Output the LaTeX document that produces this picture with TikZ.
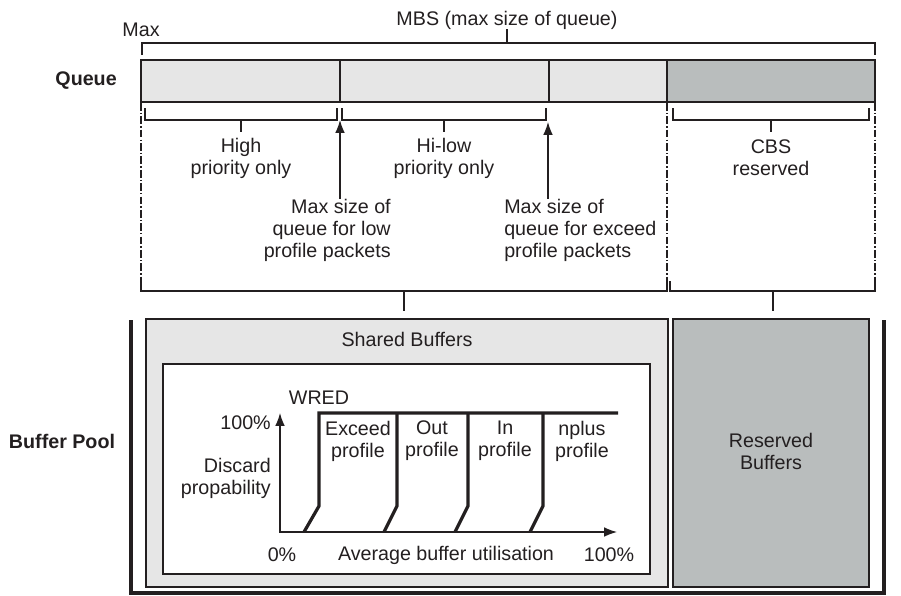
\documentclass[tikz,border=0pt]{standalone}
\usepackage{fontspec}
\setmainfont{Liberation Sans}
\usetikzlibrary{arrows.meta}

\definecolor{lightbuf}{HTML}{E6E6E6}
\definecolor{darkbuf}{HTML}{B9BDBD}
\definecolor{ink}{HTML}{231F20}

\tikzset{
  txt/.style={font=\fontsize{14}{15.6}\selectfont, align=center, inner sep=0pt, text=ink},
  boldtxt/.style={txt, font=\fontsize{14}{15.6}\selectfont\bfseries},
  brace/.style={draw=ink, line width=0.9pt},
  heavy/.style={draw=ink, line width=2pt},
  curve/.style={draw=ink, line width=2.3pt},
  dashdot/.style={draw=ink, line width=0.9pt, dash pattern=on 5.5pt off 1.5pt on 1pt off 1.5pt},
  tip/.style={-{Latex[length=3.2mm,width=2.4mm]}, draw=ink, line width=0.9pt},
}

\begin{document}
\begin{tikzpicture}[x=0.025cm, y=-0.025cm]
            \useasboundingbox (0,0) rectangle (901,595);

            % Top labels and MBS bracket
            \node[txt] (MBS) at (507,20) {MBS (max size of queue)};
            \node[txt] (Max) at (141,30) {Max};
            \draw[brace] (142,55) |- (875,43) -- (875,55);
            \draw[brace] (507,43) -- (MBS.south);

            % Queue bar
            \node[boldtxt, anchor=east] (Queue) at (117,81) {Queue};
            \fill[lightbuf] (141,60) rectangle (667,102);
            \fill[darkbuf] (667,60) rectangle (875,102);
            \draw[heavy] (141,60) rectangle (875,102);
            \draw[heavy] (340,60) -- (340,102);
            \draw[heavy] (549,60) -- (549,102);
            \draw[heavy] (667,60) -- (667,102);

            % Dash-dot guides down from the bar
            \draw[dashdot] (141,103) -- (141,281);
            \draw[dashdot] (667,103) -- (667,281);
            \draw[dashdot] (875,103) -- (875,281);

            % Brackets under the bar
            \draw[brace] (145,108) |- (337,120) -- (337,108);
            \draw[brace] (241,120) -- (241,132);
            \draw[brace] (342,108) |- (546,120) -- (546,108);
            \draw[brace] (444,120) -- (444,132);
            \draw[brace] (673,108) |- (869,120) -- (869,108);
            \draw[brace] (771,120) -- (771,132);

            \node[txt] (HighOnly) at (241,158) {High\\priority only};
            \node[txt] (HiLowOnly) at (444,158) {Hi-low\\priority only};
            \node[txt] (CBSres) at (771,158) {CBS\\reserved};

            % Max size markers
            \node[txt, anchor=east, align=right] (LowMax) at (391,230) {Max size of\\queue for low\\profile packets};
            \node[txt, anchor=west, align=left] (ExceedMax) at (504,230) {Max size of\\queue for exceed\\profile packets};
            \coordinate (LowTip) at (340,120);
            \coordinate (ExceedTip) at (548,122);
            \draw[tip] (LowMax.north -| LowTip) -- (LowTip);
            \draw[tip] (ExceedMax.north -| ExceedTip) -- (ExceedTip);

            % Brackets over the buffer pool
            \draw[brace] (141,281) |- (667,291) -- (667,281);
            \draw[brace] (404,291) -- (404,311);
            \draw[brace] (670,281) |- (875,291) -- (875,281);
            \draw[brace] (773,291) -- (773,311);

            % Buffer pool
            \node[boldtxt] (Pool) at (62,441) {Buffer Pool};
            \draw[curve] (131,320) |- (884,593) -- (884,320);

            % Shared buffers
            \filldraw[fill=lightbuf, heavy] (146,319) rectangle (668,587);
            \node[txt] (Shared) at (407,339) {Shared Buffers};
            \filldraw[fill=white, heavy] (163,364) rectangle (650,574);

            % Reserved buffers
            \filldraw[fill=darkbuf, heavy] (673,319) rectangle (869,587);
            \node[txt] (Reserved) at (771,451) {Reserved\\Buffers};

            % WRED chart
            \node[txt] (WRED) at (319,398) {WRED};
            \coordinate (Origin) at (280,532);
            \draw[{Latex[length=3.2mm,width=2.4mm]}-{Latex[length=3.2mm,width=2.4mm]}, draw=ink, line width=0.9pt] (280,413) |- (617,532);
            \node[txt, anchor=east] (TopPct) at (271,423) {100\%};
            \node[txt, anchor=east, align=right] (Discard) at (271,478) {Discard\\propability};
            \node[txt] (ZeroPct) at (282,555) {0\%};
            \node[txt] (AvgUse) at (446,555) {Average buffer utilisation};
            \node[txt] (EndPct) at (609,555) {100\%};

            % Profile curves
            \draw[curve] (304,532) -- (319,506) -- (319,413) -- (618,413);
            \draw[curve] (384,532) -- (397,506) -- (397,413);
            \draw[curve] (455,532) -- (468,506) -- (468,413);
            \draw[curve] (530,532) -- (543,506) -- (543,413);

            \node[txt] (Exceed) at (358,441) {Exceed\\profile};
            \node[txt] (Out) at (432,441) {Out\\profile};
            \node[txt] (In) at (505,441) {In\\profile};
            \node[txt] (Nplus) at (582,441) {nplus\\profile};
        \end{tikzpicture}
\end{document}
